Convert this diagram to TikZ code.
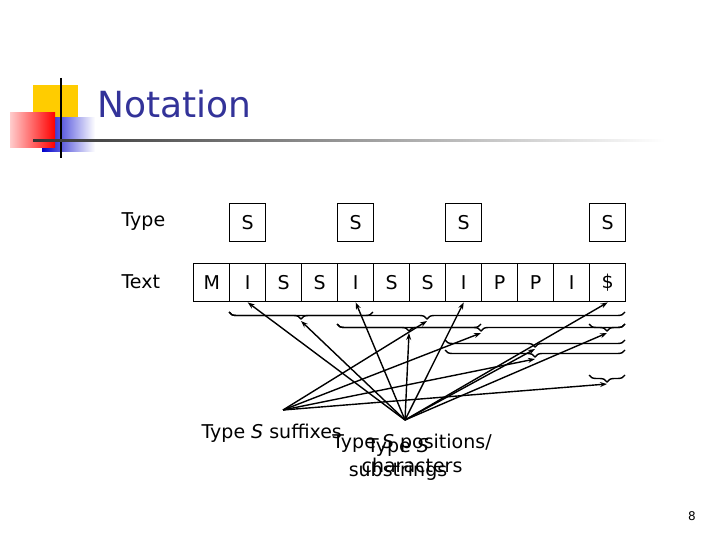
\documentclass[tikz,border=0pt]{standalone}
\usepackage{fontspec}
\setmainfont{DejaVu Sans}
\usetikzlibrary{decorations.pathreplacing,arrows.meta}
\definecolor{titleblue}{RGB}{51,51,153}
\definecolor{gold}{RGB}{255,204,0}
\begin{document}
\begin{tikzpicture}[x=1pt,y=-1pt,
 cell/.style={draw,line width=1.4pt,minimum width=36pt,minimum height=38pt,inner sep=0pt,font=\fontsize{19}{19}\selectfont,anchor=north west},
 br/.style={decorate,decoration={brace,mirror,amplitude=7pt},line width=1.4pt},
 ar/.style={-{Stealth[length=7pt,width=5pt]},line width=1.4pt},
 lab/.style={font=\fontsize{19}{24}\selectfont,align=center}]
\useasboundingbox (0,0) rectangle (720,540);
% logo
\fill[gold] (33,85) rectangle (78,122);
\shade[left color=blue!80!black,right color=white] (42,118) rectangle (95,152);
\shade[left color=red!20,right color=red] (10,113) rectangle (55,148);
\draw[line width=1.5pt] (61,78) -- (61,158);
\shade[left color=black!80,right color=white] (33,139.5) rectangle (665,142);
\node[anchor=west,text=titleblue,font=\fontsize{36}{36}\selectfont] (title) at (94,104) {Notation};
\node[anchor=west,lab] (ltype) at (118,222) {Type};
\node[anchor=west,lab] (ltext) at (118,282) {Text};
\foreach \c [count=\i from 0] in {M,I,S,S,I,S,S,I,P,P,I,\$} {
  \node[cell] (t\i) at (193+36*\i,263) {\c};
}
\foreach \i in {1,4,7,11} { \node[cell] (s\i) at (193+36*\i,203) {S}; }
% suffix braces
\draw[br] (229,312) -- coordinate[pos=.5,yshift=-9pt] (f1) (625,312);
\draw[br] (337,324) -- coordinate[pos=.5,yshift=-9pt] (f2) (625,324);
\draw[br] (445,350) -- coordinate[pos=.5,yshift=-9pt] (f3) (625,350);
\draw[br] (589,375) -- coordinate[pos=.5,yshift=-9pt] (f4) (625,375);
% substring braces
\draw[br] (229,312) -- coordinate[pos=.5,yshift=-9pt] (u1) (373,312);
\draw[br] (337,324) -- coordinate[pos=.5,yshift=-9pt] (u2) (481,324);
\draw[br] (445,340) -- coordinate[pos=.5,yshift=-9pt] (u3) (625,340);
\draw[br] (589,324) -- coordinate[pos=.5,yshift=-9pt] (u4) (625,324);
\coordinate (Q) at (283,410);
\coordinate (P) at (405,420);
\foreach \k in {1,2,3,4} { \draw[ar] (Q) -- (f\k); \draw[ar] (P) -- (u\k); }
\foreach \i in {1,4,7,11} { \draw[ar] (P) -- (t\i.south); }
\node[anchor=west,lab] (n1) at (198,433) {Type \textit{S} suffixes};
\node[lab] (n2) at (412,453) {Type \textit{S} positions/\\characters};
\node[lab] (n3) at (398,459) {Type \textit{S}\\substrings};
\node[font=\fontsize{12}{12}\selectfont] (pg) at (692,516) {8};
\end{tikzpicture}
\end{document}
